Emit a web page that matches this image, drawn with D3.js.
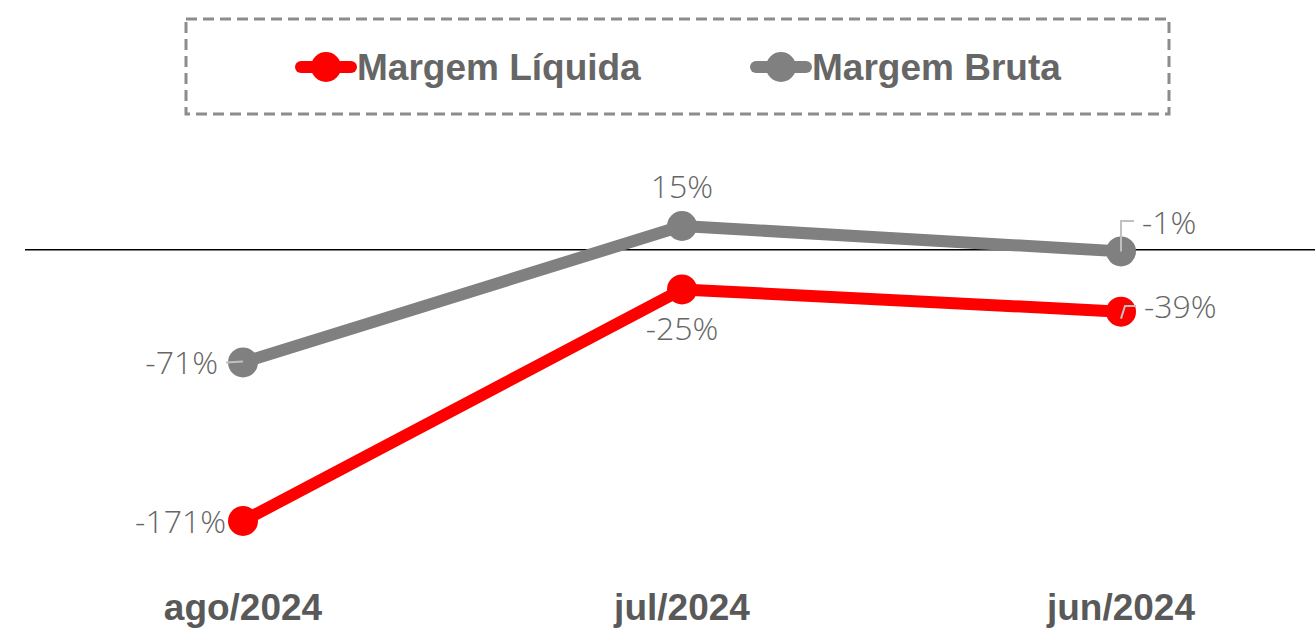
<!DOCTYPE html>
<html>
<head>
<meta charset="utf-8">
<script src="https://cdn.jsdelivr.net/npm/d3@7"></script>
<style>
  body { margin: 0; background: #fff; }
  svg { display: block; }
</style>
</head>
<body>
<script>
var months = ["ago/2024", "jul/2024", "jun/2024"]
var margemLiquida = [-171, -25, -39]
var margemBruta = [-71, 15, -1]
var seriesNames = ["Margem Líquida", "Margem Bruta"]

var width = 1315, height = 630

var svg = d3.select("body").append("svg")
  .attr("width", width)
  .attr("height", height)

var x = d3.scalePoint().domain(months).range([243, 1121])
var y = d3.scaleLinear().domain([15, -171]).range([226, 521])

var series = [
  { name: seriesNames[0], values: margemLiquida, color: "#ff0000" },
  { name: seriesNames[1], values: margemBruta, color: "#808080" }
]

// legend box
svg.append("rect")
  .attr("x", 186).attr("y", 19)
  .attr("width", 983).attr("height", 95)
  .attr("fill", "none")
  .attr("stroke", "#8c8c8c")
  .attr("stroke-width", 3)
  .attr("stroke-dasharray", "11,6")

var legendX = [295, 750]
series.forEach(function(s, i) {
  var g = svg.append("g").attr("transform", "translate(" + legendX[i] + " 67)")
  g.append("line")
    .attr("x1", 6).attr("x2", 56)
    .attr("stroke", s.color)
    .attr("stroke-width", 12)
    .attr("stroke-linecap", "round")
  g.append("circle").attr("cx", 31).attr("r", 15).attr("fill", s.color)
  g.append("text")
    .attr("x", 62).attr("dy", "0.36em")
    .attr("font-family", "Liberation Sans, Arial, sans-serif")
    .attr("font-weight", "bold")
    .attr("font-size", 37)
    .attr("fill", "#666")
    .text(s.name)
})

// zero line
svg.append("line")
  .attr("x1", 25).attr("x2", width)
  .attr("y1", y(0)).attr("y2", y(0))
  .attr("stroke", "#000")
  .attr("stroke-width", 1.5)

var line = d3.line()
  .x(function(d, i) { return x(months[i]) })
  .y(function(d) { return y(d) })

// draw gray first so red sits on top
series.slice().reverse().forEach(function(s) {
  svg.append("path")
    .datum(s.values)
    .attr("d", line)
    .attr("fill", "none")
    .attr("stroke", s.color)
    .attr("stroke-width", 12)
    .attr("stroke-linejoin", "round")
  svg.selectAll(null)
    .data(s.values)
    .enter().append("circle")
    .attr("cx", function(d, i) { return x(months[i]) })
    .attr("cy", function(d) { return y(d) })
    .attr("r", 15)
    .attr("fill", s.color)
})

// leader lines
var leader = "#c0c0c0"
svg.append("line")
  .attr("x1", 226).attr("x2", 243)
  .attr("y1", y(-71)).attr("y2", y(-71) - 1)
  .attr("stroke", leader).attr("stroke-width", 2)
svg.append("path")
  .attr("d", "M" + x("jun/2024") + "," + y(-1) + "V221H1134")
  .attr("fill", "none").attr("stroke", leader).attr("stroke-width", 2)
svg.append("path")
  .attr("d", "M" + (x("jun/2024")) + "," + (y(-39) + 7) + "L1125,306H1136")
  .attr("fill", "none").attr("stroke", leader).attr("stroke-width", 2)

// data labels
function fmt(v) { return v + "%" }
var labels = [
  { v: margemBruta[0], x: 218, y: y(-71), anchor: "end" },
  { v: margemLiquida[0], x: 226, y: y(-171), anchor: "end" },
  { v: margemBruta[1], x: x("jul/2024"), y: 186, anchor: "middle" },
  { v: margemLiquida[1], x: x("jul/2024"), y: 328, anchor: "middle" },
  { v: margemBruta[2], x: 1142, y: 222, anchor: "start" },
  { v: margemLiquida[2], x: 1144, y: 306, anchor: "start" }
]
svg.selectAll(".lbl")
  .data(labels)
  .enter().append("text")
  .attr("class", "lbl")
  .attr("x", function(d) { return d.x })
  .attr("y", function(d) { return d.y })
  .attr("dy", "0.36em")
  .attr("text-anchor", function(d) { return d.anchor })
  .attr("font-family", "Open Sans, sans-serif")
  .attr("font-weight", 300)
  .attr("font-size", 32)
  .attr("fill", "#666")
  .text(function(d) { return fmt(d.v) })

// category axis labels
svg.selectAll(".cat")
  .data(months)
  .enter().append("text")
  .attr("class", "cat")
  .attr("x", function(d) { return x(d) })
  .attr("y", 620)
  .attr("text-anchor", "middle")
  .attr("font-family", "Liberation Sans, Arial, sans-serif")
  .attr("font-weight", "bold")
  .attr("font-size", 37)
  .attr("fill", "#595959")
  .text(function(d) { return d })
</script>
</body>
</html>
